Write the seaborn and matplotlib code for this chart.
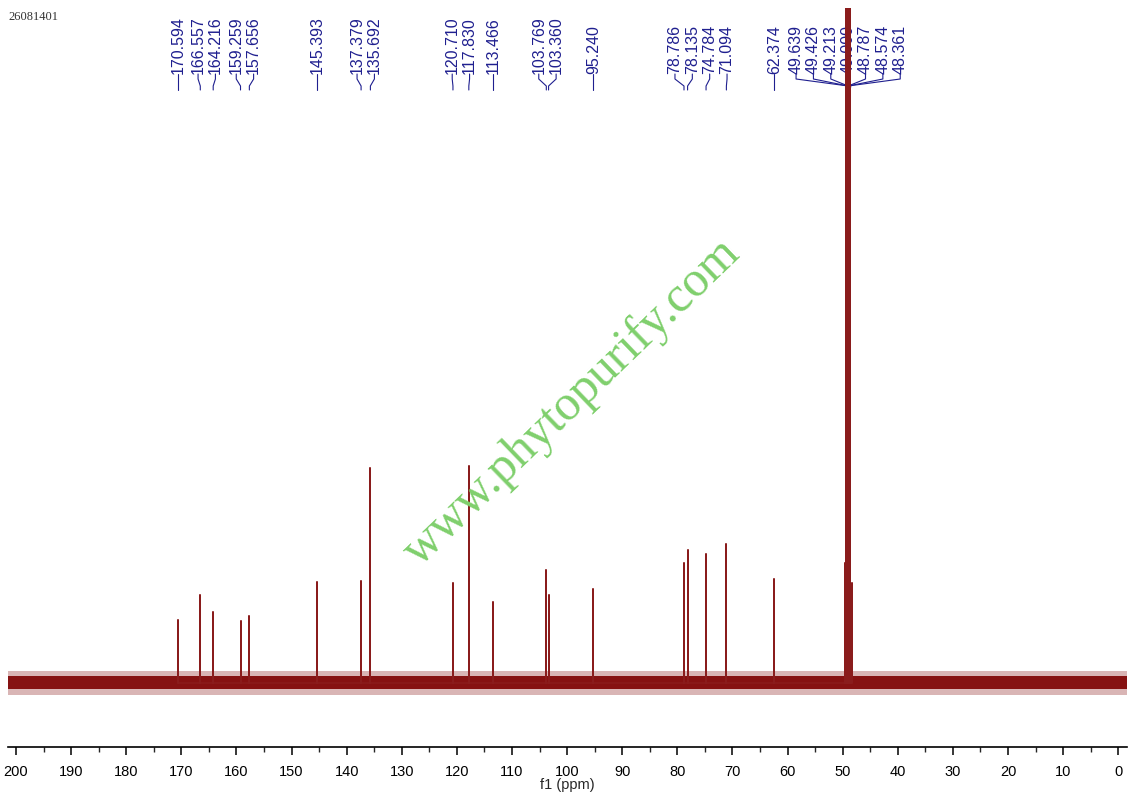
import matplotlib
matplotlib.use("Agg")
import matplotlib.pyplot as plt
from matplotlib.ticker import MultipleLocator
import pandas as pd
import seaborn as sns

# 13C peaks (ppm) and stick heights, baseline = 0
peak_ppm = [170.594, 166.557, 164.216, 159.259, 157.656, 145.393, 137.379,
            135.692, 120.710, 117.830, 113.466, 103.769, 103.360, 95.240,
            78.786, 78.135, 74.784, 71.094, 62.374]
peak_height = [63, 88, 71, 62, 67, 101, 102, 215, 100, 217, 81, 113, 88, 94,
               120, 133, 129, 139, 104]

# solvent septet (CD3OD); the inner lines run off the top
solvent_ppm = [49.639, 49.426, 49.213, 49.000, 48.787, 48.574, 48.361]
solvent_height = [120, 2000, 2000, 2000, 2000, 2000, 100]
solvent_center = 49.000

noise_core = 6      # half-width of dense baseline noise
noise_outer = 12    # half-width of the noise spikes

sample_id = "26081401"
watermark = "www.phytopurify.com"

RED = "#7d0000"
NAVY = "#1f1f8f"

sns.set_theme(style="white")
plt.rcParams["font.family"] = ["Liberation Sans", "DejaVu Sans"]

fig = plt.figure(figsize=(11.34, 7.98), dpi=100)
ax = fig.add_axes([8 / 1134, 51 / 798, 1119 / 1134, 739 / 798])
xlim = (201.45, -1.6)
ylim = (-64, 675)

# baseline noise band
ax.fill_between(xlim, -noise_outer, noise_outer, color="#a04848", alpha=0.4, lw=0, zorder=2)
ax.fill_between(xlim, -noise_core, noise_core + 1, color=RED, alpha=0.9, lw=0, zorder=2)

# stick spectrum
rows = []
for p, h in list(zip(peak_ppm, peak_height)) + list(zip(solvent_ppm, solvent_height)):
    rows += [(p, 0), (p, h), (p, 0)]
spec = pd.DataFrame(rows, columns=["ppm", "intensity"])
sns.lineplot(data=spec, x="ppm", y="intensity", sort=False, estimator=None,
             color="#8a1c1c", lw=1.1, ax=ax, zorder=5)


# --- peak labels -----------------------------------------------------------
def spread(xs, gap):
    """Push label positions apart (descending ppm) so neighbours are >= gap."""
    clusters = [[x] for x in sorted(xs, reverse=True)]

    def pos(c):
        mid = sum(c) / len(c)
        return [mid + gap * ((len(c) - 1) / 2 - i) for i in range(len(c))]

    merged = True
    while merged:
        merged = False
        for i in range(len(clusters) - 1):
            if pos(clusters[i])[-1] - pos(clusters[i + 1])[0] < gap:
                clusters[i] = clusters[i] + clusters.pop(i + 1)
                merged = True
                break
    out = []
    for c in clusters:
        out += pos(c)
    return out


all_ppm = sorted(peak_ppm + solvent_ppm, reverse=True)
label_x = spread(all_ppm, 3.15)
y_txt, y_bend1, y_bend2, y_end = 609, 604, 597, 593
for p, lx in zip(all_ppm, label_x):
    target = solvent_center if p in solvent_ppm else p
    ax.plot([lx, lx, target, target], [y_txt, y_bend1, y_bend2, y_end],
            color=NAVY, lw=0.8, zorder=3)
    ax.text(lx, y_txt, f"{p:.3f}", rotation=90, ha="center", va="bottom",
            fontsize=11.5, color=NAVY, zorder=3)
ax.plot([solvent_center], [y_bend2], "o", color=NAVY, ms=3, zorder=3)

# --- axes ------------------------------------------------------------------
ax.set_xlim(*xlim)
ax.set_ylim(*ylim)
ax.set_yticks([])
ax.set_ylabel("")
sns.despine(ax=ax, left=True)
ax.spines["bottom"].set_color("black")
ax.spines["bottom"].set_linewidth(1.2)
ax.xaxis.set_major_locator(MultipleLocator(10))
ax.xaxis.set_minor_locator(MultipleLocator(5))
ax.tick_params(axis="x", which="major", direction="out", length=6, width=1.1,
               pad=7, labelsize=10.5, colors="black", bottom=True)
ax.tick_params(axis="x", which="minor", direction="out", length=3.5, width=1,
               bottom=True)
ax.set_xlabel("f1 (ppm)", fontsize=10.5, labelpad=-1)
ax.grid(False)

fig.text(8 / 1134, 1 - 17 / 798, sample_id, fontsize=9, family="Liberation Serif",
         color="#333333", va="center", ha="left")
fig.text(572 / 1134, 1 - 402 / 798, watermark, fontsize=36, family="Liberation Serif",
         color="#7fcf6c", rotation=44, ha="center", va="center", zorder=10)

fig.savefig("out.png", dpi=100)
